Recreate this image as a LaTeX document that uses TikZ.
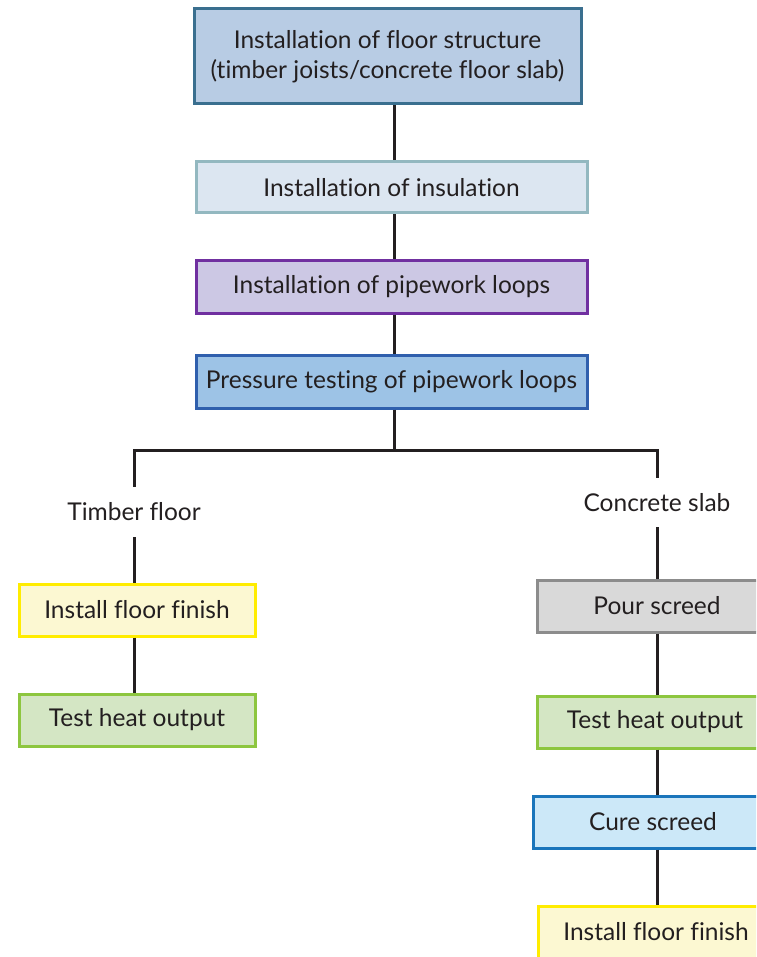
\documentclass[tikz,border=0pt]{standalone}
\usepackage{fontspec}
\setmainfont{Lato}[Ligatures=CommonOff]
\definecolor{ink}{HTML}{231F20}
\definecolor{structFill}{HTML}{B8CCE4}
\definecolor{structLine}{HTML}{3A6F8F}
\definecolor{insulFill}{HTML}{DCE6F1}
\definecolor{insulLine}{HTML}{93B8C0}
\definecolor{pipeFill}{HTML}{CCC8E4}
\definecolor{pipeLine}{HTML}{7030A0}
\definecolor{pressFill}{HTML}{9DC3E6}
\definecolor{pressLine}{HTML}{2F5FAD}
\definecolor{finishFill}{HTML}{FCF8D2}
\definecolor{finishLine}{HTML}{FFEC00}
\definecolor{testFill}{HTML}{D4E6C4}
\definecolor{testLine}{HTML}{8DC63F}
\definecolor{pourFill}{HTML}{D9D9D9}
\definecolor{pourLine}{HTML}{8C8C8C}
\definecolor{cureFill}{HTML}{CCE8F8}
\definecolor{cureLine}{HTML}{1A75BB}
\tikzset{
  stepbox/.style={draw=#1, line width=3pt, inner sep=0pt, align=center,
    text=ink, font=\fontsize{24.5}{30}\selectfont},
  label text/.style={inner sep=0pt, text=ink, font=\fontsize{24.5}{30}\selectfont},
  link/.style={draw=ink, line width=3pt}
}
\begin{document}
\begin{tikzpicture}[x=1pt,y=-1pt]
\useasboundingbox (0,0) rectangle (756,957);
\clip (0,0) rectangle (756,957);

% main sequence
\node[stepbox=structLine, fill=structFill, minimum width=387pt, minimum height=95pt]
  (struct) at (387.5,56.5) {Installation of floor structure\\(timber joists/concrete floor slab)};
\node[stepbox=insulLine, fill=insulFill, minimum width=391pt, minimum height=51pt]
  (insul) at (391.5,187.5) {Installation of insulation};
\node[stepbox=pipeLine, fill=pipeFill, minimum width=391pt, minimum height=52pt]
  (pipe) at (391.5,287) {Installation of pipework loops};
\node[stepbox=pressLine, fill=pressFill, minimum width=391pt, minimum height=53pt]
  (press) at (391.5,381.5) {Pressure testing of pipework loops};

% branch labels
\node[label text, minimum height=50pt] (timber) at (134,512) {Timber floor};
\node[label text, minimum height=49pt] (concrete) at (657,502.5) {Concrete slab};

% timber floor route
\node[stepbox=finishLine, fill=finishFill, minimum width=236pt, minimum height=52pt]
  (finishL) at (137,610) {Install floor finish};
\node[stepbox=testLine, fill=testFill, minimum width=236pt, minimum height=52pt]
  (testL) at (137,720) {Test heat output};

% concrete slab route
\node[stepbox=pourLine, fill=pourFill, minimum width=240pt, minimum height=52pt]
  (pour) at (657,606) {Pour screed};
\node[stepbox=testLine, fill=testFill, minimum width=236pt, minimum height=52pt]
  (testR) at (655,722) {Test heat output};
\node[stepbox=cureLine, fill=cureFill, minimum width=240pt, minimum height=52pt]
  (cure) at (653,822) {Cure screed};
\node[stepbox=finishLine, fill=finishFill, minimum width=236pt, minimum height=52pt]
  (finishR) at (656,932) {Install floor finish};

% connectors
\coordinate (fork) at (394,450);
\path[link] (struct.south -| fork) -- (insul.north -| fork);
\path[link] (insul.south -| fork) -- (pipe.north -| fork);
\path[link] (pipe.south -| fork) -- (press.north -| fork);
\path[link] (press.south -| fork) -- (fork);
\path[link] (timber.north) |- (fork) -| (concrete.north);
\path[link] (timber.south) -- (finishL.north -| timber.south);
\path[link] (finishL.south -| timber.south) -- (testL.north -| timber.south);
\path[link] (concrete.south) -- (pour.north -| concrete.south);
\path[link] (pour.south -| concrete.south) -- (testR.north -| concrete.south);
\path[link] (testR.south -| concrete.south) -- (cure.north -| concrete.south);
\path[link] (cure.south -| concrete.south) -- (finishR.north -| concrete.south);
\end{tikzpicture}
\end{document}
